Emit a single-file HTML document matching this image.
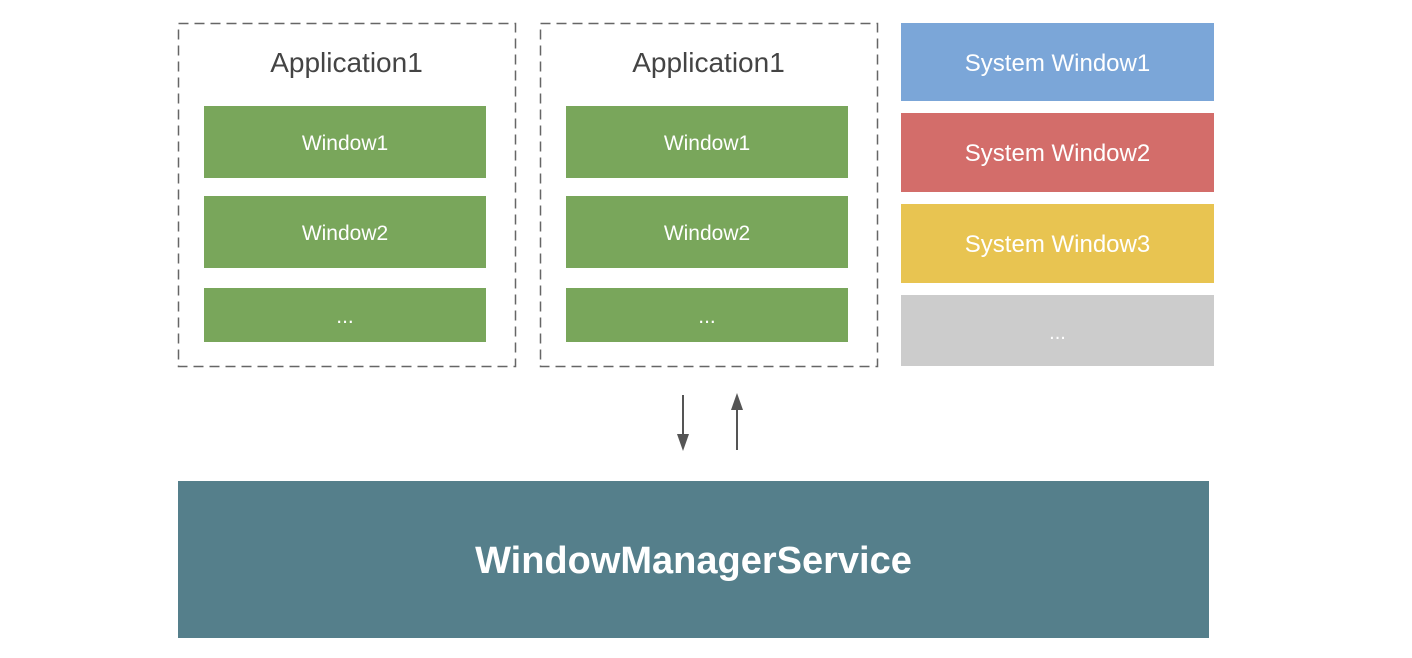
<!DOCTYPE html>
<html><head><meta charset="utf-8"><style>
html,body{margin:0;padding:0;background:#fff;}
body{width:1412px;height:658px;position:relative;overflow:hidden;font-family:"Liberation Sans",sans-serif;}
.a{position:absolute;display:flex;align-items:center;justify-content:center;color:#fff;}
.g{background:#79a65b;font-size:21px;padding-top:3px;box-sizing:border-box;}
.s{font-size:24px;padding-top:3px;box-sizing:border-box;}
.t{position:absolute;color:#444;font-size:28px;text-align:center;}
</style></head><body>
<svg width="1412" height="658" style="position:absolute;left:0;top:0">
<rect x="178.5" y="23.5" width="337" height="343" fill="none" stroke="#666" stroke-width="1.5" stroke-dasharray="10,6"/>
<rect x="540.5" y="23.5" width="337" height="343" fill="none" stroke="#666" stroke-width="1.5" stroke-dasharray="10,6"/>
<line x1="683" y1="395" x2="683" y2="436" stroke="#555" stroke-width="2"/>
<polygon points="677,434 689,434 683,451" fill="#555"/>
<line x1="737" y1="408" x2="737" y2="450" stroke="#555" stroke-width="2"/>
<polygon points="731,410 743,410 737,393" fill="#555"/>
</svg>
<div class="t" style="left:178px;top:47px;width:337px;">Application1</div>
<div class="t" style="left:540px;top:47px;width:337px;">Application1</div>
<div class="a g" style="left:204px;top:106px;width:282px;height:72px;">Window1</div>
<div class="a g" style="left:204px;top:196px;width:282px;height:72px;">Window2</div>
<div class="a g" style="left:204px;top:288px;width:282px;height:54px;">...</div>
<div class="a g" style="left:566px;top:106px;width:282px;height:72px;">Window1</div>
<div class="a g" style="left:566px;top:196px;width:282px;height:72px;">Window2</div>
<div class="a g" style="left:566px;top:288px;width:282px;height:54px;">...</div>
<div class="a s" style="left:901px;top:23px;width:313px;height:78px;background:#7ba6d8;">System Window1</div>
<div class="a s" style="left:901px;top:113px;width:313px;height:79px;background:#d36d6a;">System Window2</div>
<div class="a s" style="left:901px;top:204px;width:313px;height:79px;background:#e8c451;">System Window3</div>
<div class="a s" style="left:901px;top:295px;width:313px;height:71px;background:#cccccc;font-size:20px;padding-top:6px;">...</div>
<div class="a" style="left:178px;top:481px;width:1031px;height:157px;background:#557f8b;font-size:38px;font-weight:bold;padding-top:4px;box-sizing:border-box;">WindowManagerService</div>
</body></html>
